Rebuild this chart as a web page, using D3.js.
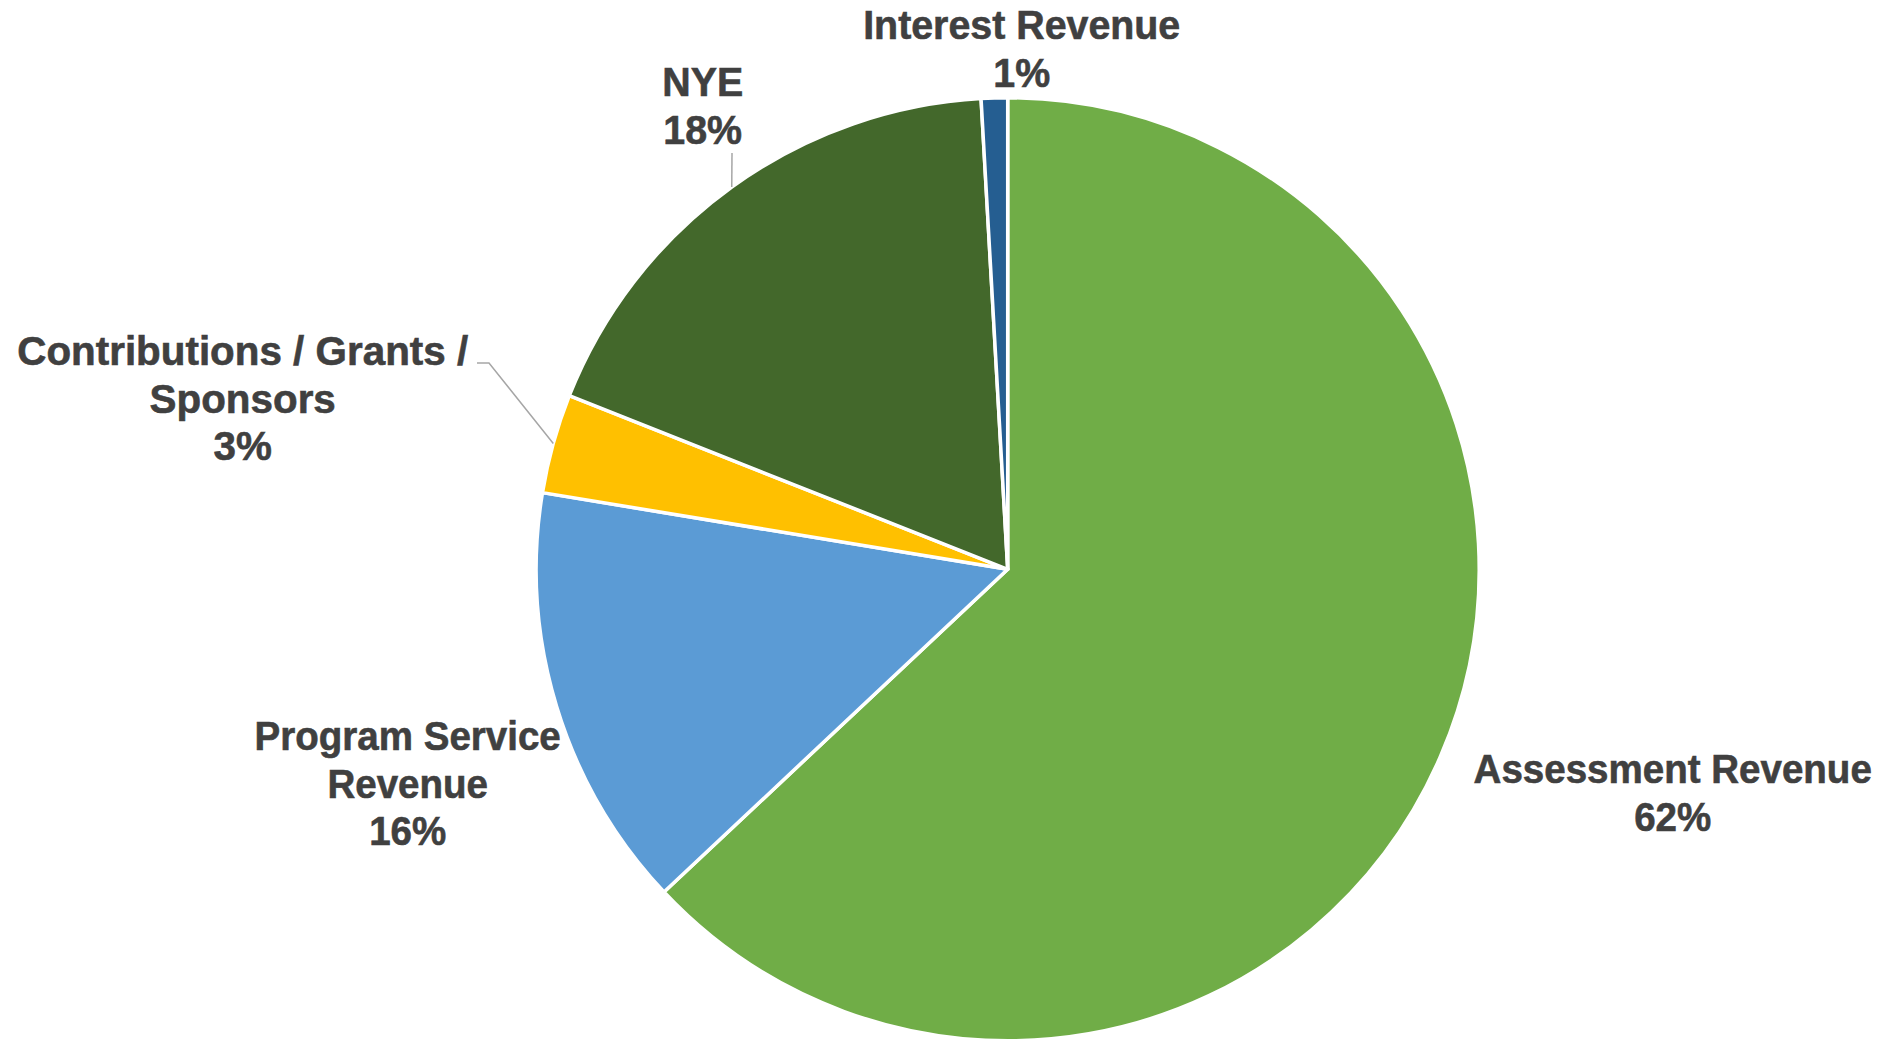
<!DOCTYPE html>
<html>
<head>
<meta charset="utf-8">
<script src="https://cdn.jsdelivr.net/npm/d3@7"></script>
<style>
  html, body { margin: 0; padding: 0; background: #ffffff; }
  svg { display: block; }
</style>
</head>
<body>
<svg id="chart" width="1883" height="1041"></svg>
<script>
// ---- data ----
const categories = ["Assessment Revenue", "Program Service Revenue", "Contributions / Grants / Sponsors", "NYE", "Interest Revenue"];
const shares = [63.0, 14.6, 3.4, 18.1, 0.9];          // slice sizes as drawn
const pctLabels = ["62%", "16%", "3%", "18%", "1%"];   // label text as printed
const labelLines = [
  ["Assessment Revenue"],
  ["Program Service", "Revenue"],
  ["Contributions / Grants /", "Sponsors"],
  ["NYE"],
  ["Interest Revenue"]
];
const colors = ["#70AD47", "#5B9BD5", "#FFC000", "#43682B", "#255E91"];

// ---- layout ----
const W = 1883, H = 1041;
const cx = 1007.7, cy = 569.3, R = 471.5;
// label anchor (center x, first baseline) relative to pie centre, and leader flags
const labelLayout = [
  {dx: 665,  dy: 214,  sx: 0.94, leader: null},
  {dx: -600, dy: 181,  sx: 0.94, leader: null},
  {dx: -765, dy: -204, sx: 0.985, leader: {sx: -530.7, sy: -206.3, kx: -518.7}},
  {dx: -305, dy: -473, sx: 0.96, leader: {sx: -275.7, sy: -416.3, kx: null}},
  {dx: 14,   dy: -530, sx: 0.96, leader: null}
];
const fontSize = 41, lineH = 47.5;

const svg = d3.select("#chart");
const g = svg.append("g").attr("transform", `translate(${cx},${cy})`);

const pie = d3.pie().sort(null).value(d => d).startAngle(0).endAngle(2 * Math.PI);
const arcs = pie(shares);
const arc = d3.arc().innerRadius(0).outerRadius(R);
const edgeArc = d3.arc().innerRadius(R).outerRadius(R);

g.selectAll("path.slice")
  .data(arcs)
  .join("path")
  .attr("class", "slice")
  .attr("d", arc)
  .attr("fill", (d, i) => colors[i])
  .attr("stroke", "#ffffff")
  .attr("stroke-width", 3.5)
  .attr("stroke-linejoin", "round");

// leader lines
arcs.forEach((a, i) => {
  const L = labelLayout[i].leader;
  if (!L) return;
  const end = edgeArc.centroid(a);
  const pts = [[L.sx, L.sy]];
  if (L.kx !== null) pts.push([L.kx, L.sy]);
  pts.push(end);
  g.append("path")
    .attr("d", d3.line()(pts))
    .attr("fill", "none")
    .attr("stroke", "#A6A6A6")
    .attr("stroke-width", 1.5);
});

// labels
arcs.forEach((a, i) => {
  const lay = labelLayout[i];
  const lines = labelLines[i].concat([pctLabels[i]]);
  const t = g.append("text")
    .attr("transform", `translate(${lay.dx},${lay.dy}) scale(${lay.sx},1)`)
    .attr("text-anchor", "middle")
    .attr("font-family", "'Liberation Sans', Arial, sans-serif")
    .attr("font-weight", 700)
    .attr("font-size", fontSize)
    .attr("fill", "#404040")
    .attr("stroke", "#404040")
    .attr("stroke-width", 0.6);
  lines.forEach((ln, k) => {
    t.append("tspan").attr("x", 0).attr("y", k * lineH).text(ln);
  });
});
</script>
</body>
</html>
